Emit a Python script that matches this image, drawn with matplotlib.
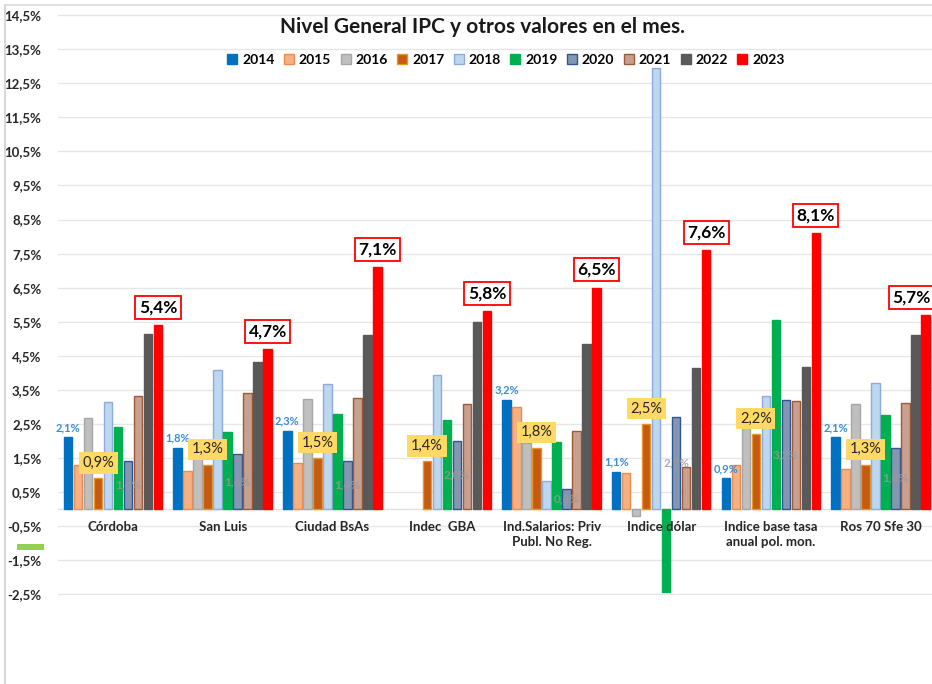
import numpy as np
import matplotlib
matplotlib.use("Agg")
import matplotlib.pyplot as plt
from matplotlib.patches import Rectangle
from matplotlib.lines import Line2D

plt.rcParams["font.family"] = ["Lato", "DejaVu Sans"]

categories = ["Córdoba", "San Luis", "Ciudad BsAs", "Indec  GBA",
              "Ind.Salarios: Priv\nPubl. No Reg.", "Indice dólar",
              "Indice base tasa\nanual pol. mon.", "Ros 70 Sfe 30"]
years = ["2014", "2015", "2016", "2017", "2018", "2019", "2020", "2021", "2022", "2023"]

# monthly % change per category, one list per year (None = no data)
v2014 = [2.1, 1.8, 2.3, None, 3.2, 1.1, 0.9, 2.1]
v2015 = [1.3, 1.12, 1.36, None, 3.0, 1.06, 1.29, 1.17]
v2016 = [2.66, 1.7, 3.23, None, 1.93, -0.2, 2.4, 3.07]
v2017 = [0.9, 1.3, 1.5, 1.4, 1.8, 2.5, 2.2, 1.3]
v2018 = [3.15, 4.08, 3.66, 3.93, 0.83, 12.95, 3.33, 3.71]
v2019 = [2.42, 2.27, 2.78, 2.61, 1.98, -2.44, 5.55, 2.77]
v2020 = [1.4, 1.6, 1.4, 2.0, 0.6, 2.7, 3.2, 1.8]
v2021 = [3.32, 3.4, 3.27, 3.08, 2.3, 1.24, 3.17, 3.12]
v2022 = [5.13, 4.33, 5.12, 5.48, 4.84, 4.13, 4.16, 5.1]
v2023 = [5.4, 4.7, 7.1, 5.8, 6.5, 7.6, 8.1, 5.7]
series = [v2014, v2015, v2016, v2017, v2018, v2019, v2020, v2021, v2022, v2023]

face = ["#0070C0", "#F4B183", "#BFBFBF", "#C55A11", "#BDD7EE",
        "#00B050", "#8497B0", "#C8A090", "#595959", "#FF0000"]
edge = ["#0070C0", "#F08A4B", "#A6A6A6", "#E8962A", "#8FAADC",
        "#00B050", "#2F5597", "#9E5A36", "#595959", "#FF0000"]

yticks = np.arange(-2.5, 15.0, 1.0)


def pct(v):
    return f"{v:.1f}".replace(".", ",") + "%"


fig = plt.figure(figsize=(9.32, 6.84), dpi=100)
ax = fig.add_axes([58 / 932, 0, 1 - 58 / 932, 679 / 684])
ax.set_xlim(-0.502, 7.47)
ax.set_ylim(-5.14, 14.8)

x = np.arange(len(categories))
step = 0.0912
width = 0.078

for i, vals in enumerate(series):
    xs = x + (i - 4.5) * step
    ys = [np.nan if v is None else v for v in vals]
    ax.bar(xs, ys, width=width, color=face[i], edgecolor=edge[i],
           linewidth=1, zorder=3, label=years[i])

    for xi, v in zip(xs, vals):
        if v is None:
            continue
        if i == 0:
            ax.annotate(pct(v), (xi, v), xytext=(0, 3), textcoords="offset points",
                        ha="center", va="bottom", fontsize=8, fontweight="bold",
                        color="#3C8DD6", zorder=5)
        elif i == 3:
            ax.annotate(pct(v), (xi, v), xytext=(0, 6), textcoords="offset points",
                        ha="center", va="bottom", fontsize=10.5, color="#262626",
                        zorder=6,
                        bbox=dict(boxstyle="square,pad=0.25", facecolor="#FFD966",
                                  edgecolor="none"))
        elif i == 6:
            ax.text(xi, v / 2, pct(v), ha="center", va="center", fontsize=8.5,
                    fontweight="bold", color="#9A9A9A", alpha=0.8, zorder=5)
        elif i == 9:
            dx = -10 if xi > 7.3 else 0
            ax.annotate(pct(v), (xi, v), xytext=(dx, 7), textcoords="offset points",
                        ha="center", va="bottom", fontsize=12.5, fontweight="bold",
                        color="black", zorder=6,
                        bbox=dict(boxstyle="square,pad=0.2", facecolor="white",
                                  edgecolor="#FF0000", linewidth=1.3))

ax.set_yticks(yticks)
ax.set_yticklabels([pct(t) for t in yticks], fontsize=9.5, fontweight="bold",
                   color="#262626")
ax.tick_params(axis="y", length=0, pad=12)
ax.tick_params(axis="x", length=0)
ax.set_xticks([])
ax.grid(axis="y", color="#E6E6E6", linewidth=1, zorder=0)
for s in ax.spines.values():
    s.set_visible(False)
ax.axhline(0, color="#E0E0E0", linewidth=1, zorder=1)

for xi, name in zip(x, categories):
    ax.text(xi, -0.35, name, ha="center", va="top", fontsize=9.5,
            fontweight="bold", color="#262626", linespacing=1.35)

handles = [Line2D([], [], marker="s", linestyle="none", markersize=6.5,
                  markerfacecolor=face[i], markeredgecolor=edge[i], label=years[i])
           for i in range(len(years))]
fig.legend(handles=handles, loc="center", bbox_to_anchor=(506 / 932, 1 - 60 / 684),
           ncol=10, frameon=False, handlelength=0.7, handletextpad=0.35,
           columnspacing=0.7, borderpad=0, prop={"weight": "bold", "size": 10})

fig.text(482 / 932, 1 - 27 / 684, "Nivel General IPC y otros valores en el mes.",
         ha="center", va="center", fontsize=15, fontweight="bold", color="#1a1a1a")

# chart border and stray marker
fig.add_artist(Line2D([5 / 932, 5 / 932], [0, 1 - 5 / 684], color="#D0D0D0",
                      linewidth=1.2, transform=fig.transFigure))
fig.add_artist(Line2D([5 / 932, 1], [1 - 5 / 684, 1 - 5 / 684], color="#D9D9D9",
                      linewidth=1.2, transform=fig.transFigure))
fig.add_artist(Rectangle((17 / 932, 1 - 550 / 684), 27 / 932, 6 / 684,
                         facecolor="#92D050", edgecolor="none",
                         transform=fig.transFigure))

fig.savefig("out.png", dpi=100, facecolor="white")
